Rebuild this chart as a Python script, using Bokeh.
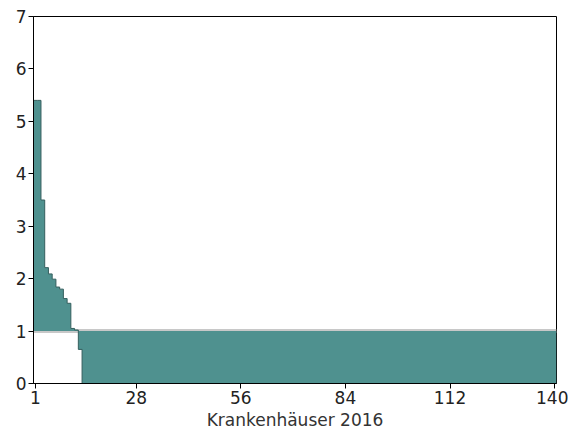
from bokeh.plotting import figure
from bokeh.models import FixedTicker, Span, Range1d
from bokeh.embed import file_html
from bokeh.resources import INLINE

# Data: one value per hospital (sorted descending), 140 hospitals
hospitals = list(range(1, 141))
values = [5.40, 5.40, 3.50, 2.21, 2.09, 1.99, 1.84, 1.80, 1.62, 1.53, 1.05, 1.02, 0.65,
          0, 0, 0, 0, 0, 0, 0, 0, 0, 0,
          0, 0, 0, 0, 0, 0, 0, 0, 0, 0,
          0, 0, 0, 0, 0, 0, 0, 0, 0, 0,
          0, 0, 0, 0, 0, 0, 0, 0, 0, 0,
          0, 0, 0, 0, 0, 0, 0, 0, 0, 0,
          0, 0, 0, 0, 0, 0, 0, 0, 0, 0,
          0, 0, 0, 0, 0, 0, 0, 0, 0, 0,
          0, 0, 0, 0, 0, 0, 0, 0, 0, 0,
          0, 0, 0, 0, 0, 0, 0, 0, 0, 0,
          0, 0, 0, 0, 0, 0, 0, 0, 0, 0,
          0, 0, 0, 0, 0, 0, 0, 0, 0, 0,
          0, 0, 0, 0, 0, 0, 0, 0, 0, 0,
          0, 0, 0, 0, 0, 0, 0]
reference = 1.0
x_ticks = [1, 28, 56, 84, 112, 140]
y_ticks = [0, 1, 2, 3, 4, 5, 6, 7]
x_label = "Krankenhäuser 2016"

teal = "#4f918f"
font = "DejaVu Sans"

# bar edges (each hospital occupies one unit centred on its index)
edges = [h - 0.5 for h in hospitals] + [hospitals[-1] + 0.5]
tops = values + [values[-1]]
bottoms = [reference] * len(tops)

p = figure(width=568, height=432, output_backend="svg", toolbar_location=None,
           x_range=Range1d(0.5, 140.5), y_range=Range1d(0, 7),
           min_border_left=33, min_border_right=12, min_border_top=16, min_border_bottom=43)

p.add_layout(Span(location=reference, dimension="width", line_color="#c8c8c8",
                  line_width=4, level="underlay"))

p.varea_step(x=edges, y1=bottoms, y2=tops, step_mode="after", fill_color=teal)
p.step(x=edges, y=tops, mode="after", line_color="#355f5e", line_width=1)

p.grid.visible = False
p.outline_line_color = "black"
p.outline_line_width = 1

for ax in (p.xaxis[0], p.yaxis[0]):
    ax.axis_line_color = "black"
    ax.major_tick_line_color = "black"
    ax.major_tick_out = 5
    ax.major_tick_in = 0
    ax.minor_tick_line_color = None
    ax.major_label_text_font = font
    ax.major_label_text_font_size = "17px"
    ax.major_label_text_color = "#222222"

p.xaxis[0].ticker = FixedTicker(ticks=x_ticks)
p.yaxis[0].ticker = FixedTicker(ticks=y_ticks)
p.xaxis[0].major_label_standoff = 2
p.yaxis[0].major_label_standoff = 2
p.xaxis[0].axis_label = x_label
p.xaxis[0].axis_label_text_font = font
p.xaxis[0].axis_label_text_font_size = "17px"
p.xaxis[0].axis_label_text_font_style = "normal"
p.xaxis[0].axis_label_text_color = "#333333"
p.xaxis[0].axis_label_standoff = 3

p.background_fill_color = "white"
p.border_fill_color = "white"

open("out.html", "w").write(file_html(p, INLINE))
